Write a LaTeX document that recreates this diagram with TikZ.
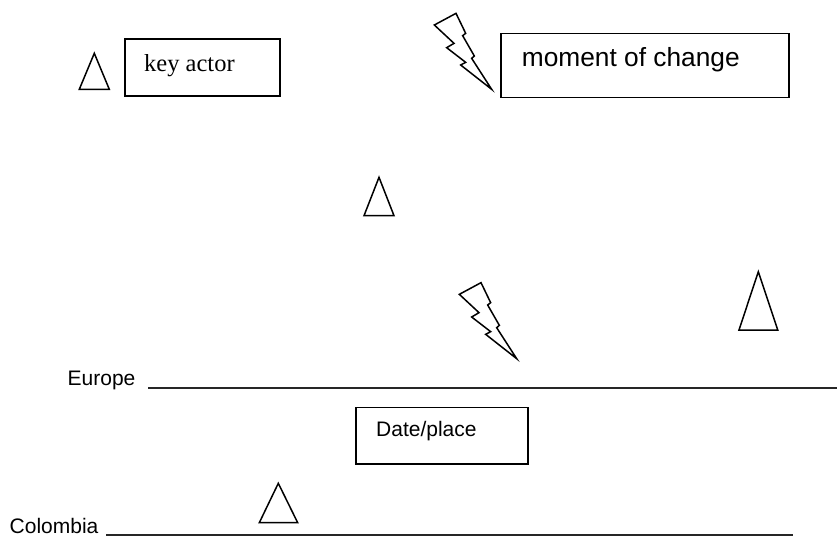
\documentclass[tikz,border=0pt]{standalone}
\usepackage{fontspec}
\setmainfont{Liberation Serif}
\newfontfamily\arialf{Liberation Sans}
\begin{document}
\begin{tikzpicture}[x=1pt,y=-1pt,
  shapeline/.style={draw=black,line width=1.5pt,line join=miter},
  boxnode/.style={draw=black,line width=1.5pt,inner sep=0pt,anchor=north west},
  txt/.style={inner sep=0pt,anchor=base west},
  rule/.style={draw=black!85,line width=1.3pt},
  bolt/.pic={\draw[shapeline] (0,0) -- (21.67,-11.67) -- (31.33,8.33) -- (28.33,10.67) -- (40,31) -- (37.33,33.33) -- (57.33,64.33) -- (26.33,40) -- (31.33,37.33) -- (12.33,22.67) -- (19.67,18.33) -- cycle;}
]
\useasboundingbox (0,0) rectangle (837,536);
% key actor
\draw[shapeline] (94.3,53.3) -- (79.3,89.3) -- (109.3,89.3) -- cycle;
\node[boxnode,minimum width=154.7pt,minimum height=56.7pt] (keybox) at (124.3,38.3) {};
\node[txt,font=\fontsize{24.5}{28}\selectfont] (keytxt) at (144,71.7) {key actor};
% moment of change
\pic at (434.33,25) {bolt};
\node[boxnode,minimum width=288pt,minimum height=64pt] (momentbox) at (500,32.7) {};
\node[txt,font=\arialf\fontsize{26.3}{30}\selectfont] (momenttxt) at (521.7,66.7) {moment of change};
% middle triangles
\draw[shapeline] (379,177.3) -- (364,215.7) -- (394,215.7) -- cycle;
\draw[shapeline] (758.3,271.7) -- (739,330) -- (777.7,330) -- cycle;
\pic at (459.33,294.33) {bolt};
% Europe
\node[txt,font=\arialf\fontsize{21}{24}\selectfont] (europe) at (67.5,385) {Europe};
\coordinate (eA) at (148,388);
\coordinate (eB) at (837,388);
\draw[rule] (eA) -- (eB);
% Date/place
\node[boxnode,minimum width=172.3pt,minimum height=56.6pt] (datebox) at (355,406.7) {};
\node[txt,font=\arialf\fontsize{21}{24}\selectfont] (datetxt) at (376,436.7) {Date/place};
% Colombia
\draw[shapeline] (278.3,483.3) -- (259.3,522.7) -- (297.7,522.7) -- cycle;
\node[txt,font=\arialf\fontsize{21}{24}\selectfont] (colombia) at (9.5,533) {Colombia};
\coordinate (cA) at (106,535);
\coordinate (cB) at (793,535);
\draw[rule] (cA) -- (cB);
\end{tikzpicture}
\end{document}
